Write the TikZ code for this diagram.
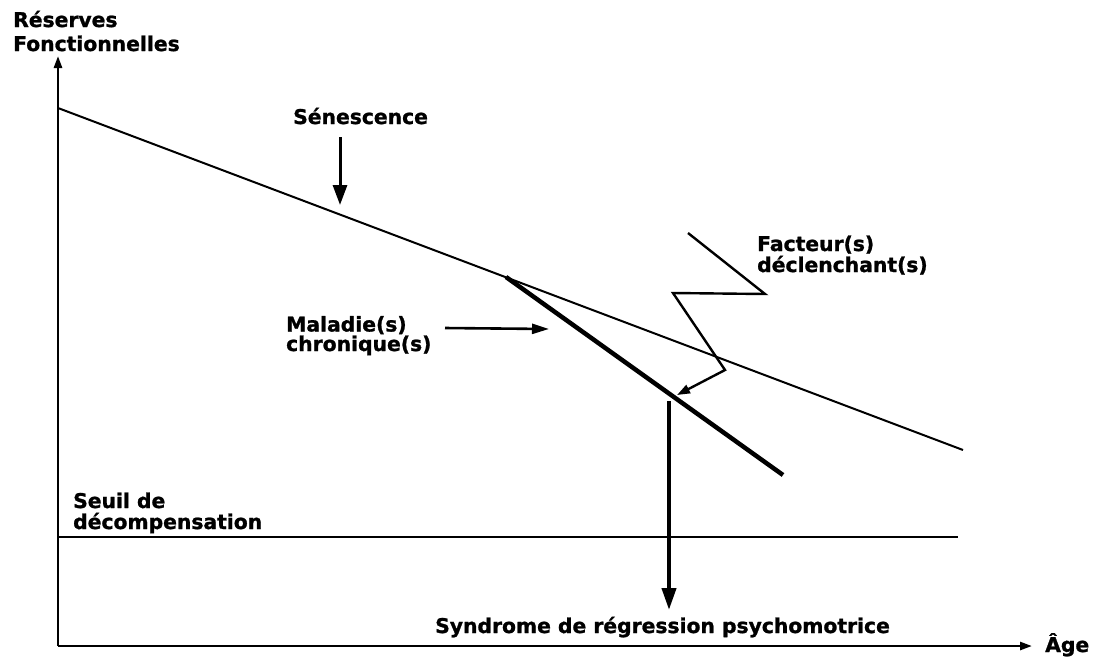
\documentclass[tikz,border=0pt]{standalone}
\usepackage{fontspec}
\setmainfont{DejaVu Sans}[BoldFeatures={FakeBold=1.2}]
\usetikzlibrary{arrows.meta}
\begin{document}
\begin{tikzpicture}[x=1pt,y=-1pt,
  lbl/.style={font=\bfseries\fontsize{20.3}{19.5}\selectfont, inner sep=0pt, align=left, anchor=base west},
  thin/.style={line width=2pt},
  thick/.style={line width=4.5pt},
  arr/.style={line width=3pt,-{Triangle[length=20pt,width=14pt]}},
]
\useasboundingbox (0,0) rectangle (1102,657);
% axes
\coordinate (O) at (58,646);
\coordinate (Ytop) at (58,56);
\coordinate (Xend) at (1032,646);
\draw[line width=2.6pt,-{Triangle[length=12pt,width=8pt]}] (O) -- (Ytop);
\draw[line width=2.6pt,-{Triangle[length=12pt,width=8pt]}] (O) -- (Xend);
% senescence line
\coordinate (S0) at (58,108);
\coordinate (S1) at (963,450);
\draw[thin] (S0) -- (S1);
% threshold
\coordinate (T0) at (58,537);
\coordinate (T1) at (958,537);
\draw[thin] (T0) -- (T1);
% chronic disease line
\coordinate (C0) at (506,277);
\coordinate (C1) at (783,475);
\draw[thick] (C0) -- (C1);
% zigzag
\coordinate (Z0) at (688,233);
\coordinate (Z1) at (765,294);
\coordinate (Z2) at (673,293);
\coordinate (Z3) at (725,370);
\coordinate (Z4) at (677,395);
\draw[line width=2.4pt,-{Triangle[length=13pt,width=9pt]}] (Z0) -- (Z1) -- (Z2) -- (Z3) -- (Z4);
% labels
\node[lbl,font=\bfseries\fontsize{20.3}{24}\selectfont] (res) at (13,51) {Réserves\\Fonctionnelles};
\node[lbl] (sen) at (293,124) {Sénescence};
\node[lbl,font=\bfseries\fontsize{20.3}{21}\selectfont] (fac) at (757,272) {Facteur(s)\\déclenchant(s)};
\node[lbl] (mal) at (286,351) {Maladie(s)\\chronique(s)};
\node[lbl,font=\bfseries\fontsize{20.3}{21}\selectfont] (seu) at (73,529) {Seuil de\\décompensation};
\node[lbl] (syn) at (435,633) {Syndrome de régression psychomotrice};
\node[lbl] (age) at (1045,652) {Âge};
% arrows
\coordinate (senA) at (340,137);
\coordinate (senB) at (340,205);
\draw[arr] (senA) -- (senB);
\coordinate (malA) at (445,328);
\coordinate (malB) at (549,329);
\draw[line width=2.6pt,-{Triangle[length=17pt,width=10pt]}] (malA) -- (malB);
\coordinate (synA) at (669,401);
\coordinate (synB) at (669,610);
\draw[line width=4pt,-{Triangle[length=22pt,width=14pt]}] (synA) -- (synB);
\end{tikzpicture}
\end{document}
